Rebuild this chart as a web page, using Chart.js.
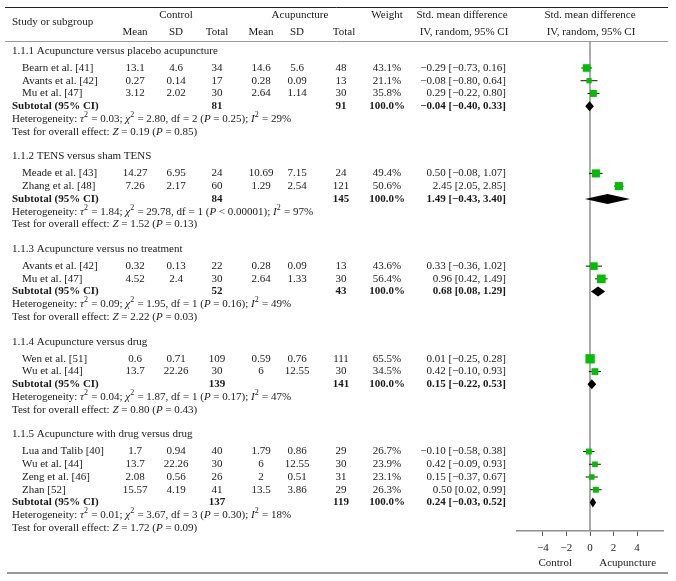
<!DOCTYPE html>
<html>
<head>
<meta charset="utf-8">
<script src="https://cdn.jsdelivr.net/npm/chart.js@4.4.2/dist/chart.umd.min.js"></script>
<style>
  html, body { margin: 0; padding: 0; background: #fff; }
  canvas { display: block; }
</style>
</head>
<body>
<canvas id="forest" width="676" height="581"></canvas>
<script>
// ── Data ───────────────────────────────────────────────────────
const groupTitles = [
  '1.1.1 Acupuncture versus placebo acupuncture',
  '1.1.2 TENS versus sham TENS',
  '1.1.3 Acupuncture versus no treatment',
  '1.1.4 Acupuncture versus drug',
  '1.1.5 Acupuncture with drug versus drug',
];
const studyNames = [
  'Bearn et al. [41]', 'Avants et al. [42]', 'Mu et al. [47]',
  'Meade et al. [43]', 'Zhang et al. [48]',
  'Avants et al. [42]', 'Mu et al. [47]',
  'Wen et al. [51]', 'Wu et al. [44]',
  'Lua and Talib [40]', 'Wu et al. [44]', 'Zeng et al. [46]', 'Zhan [52]',
];
const studyGroup = [0, 0, 0, 1, 1, 2, 2, 3, 3, 4, 4, 4, 4];
const ctrlMean  = [13.1, 0.27, 3.12, 14.27, 7.26, 0.32, 4.52, 0.6, 13.7, 1.7, 13.7, 2.08, 15.57];
const ctrlSD    = [4.6, 0.14, 2.02, 6.95, 2.17, 0.13, 2.4, 0.71, 22.26, 0.94, 22.26, 0.56, 4.19];
const ctrlTotal = [34, 17, 30, 24, 60, 22, 30, 109, 30, 40, 30, 26, 41];
const acuMean   = [14.6, 0.28, 2.64, 10.69, 1.29, 0.28, 2.64, 0.59, 6, 1.79, 6, 2, 13.5];
const acuSD     = [5.6, 0.09, 1.14, 7.15, 2.54, 0.09, 1.33, 0.76, 12.55, 0.86, 12.55, 0.51, 3.86];
const acuTotal  = [48, 13, 30, 24, 121, 13, 30, 111, 30, 29, 30, 31, 29];
const weight    = [43.1, 21.1, 35.8, 49.4, 50.6, 43.6, 56.4, 65.5, 34.5, 26.7, 23.9, 23.1, 26.3];
const smd       = [-0.29, -0.08, 0.29, 0.50, 2.45, 0.33, 0.96, 0.01, 0.42, -0.10, 0.42, 0.15, 0.50];
const ciLow     = [-0.73, -0.80, -0.22, -0.08, 2.05, -0.36, 0.42, -0.25, -0.10, -0.58, -0.09, -0.37, 0.02];
const ciHigh    = [0.16, 0.64, 0.80, 1.07, 2.85, 1.02, 1.49, 0.28, 0.93, 0.38, 0.93, 0.67, 0.99];

const subCtrlTotal = [81, 84, 52, 139, 137];
const subAcuTotal  = [91, 145, 43, 141, 119];
const subSmd  = [-0.04, 1.49, 0.68, 0.15, 0.24];
const subLow  = [-0.40, -0.43, 0.08, -0.22, -0.03];
const subHigh = [0.33, 3.40, 1.29, 0.53, 0.52];

const heterogeneity = [
  'Heterogeneity: *τ*^2 = 0.03; *χ*^2 = 2.80, df = 2 (*P* = 0.25); *I*^2 = 29%',
  'Heterogeneity: *τ*^2 = 1.84; *χ*^2 = 29.78, df = 1 (*P* < 0.00001); *I*^2 = 97%',
  'Heterogeneity: *τ*^2 = 0.09; *χ*^2 = 1.95, df = 1 (*P* = 0.16); *I*^2 = 49%',
  'Heterogeneity: *τ*^2 = 0.04; *χ*^2 = 1.87, df = 1 (*P* = 0.17); *I*^2 = 47%',
  'Heterogeneity: *τ*^2 = 0.01; *χ*^2 = 3.67, df = 3 (*P* = 0.30); *I*^2 = 18%',
];
const overallTest = [
  'Test for overall effect: *Z* = 0.19 (*P* = 0.85)',
  'Test for overall effect: *Z* = 1.52 (*P* = 0.13)',
  'Test for overall effect: *Z* = 2.22 (*P* = 0.03)',
  'Test for overall effect: *Z* = 0.80 (*P* = 0.43)',
  'Test for overall effect: *Z* = 1.72 (*P* = 0.09)',
];
const xTicks = [-4, -2, 0, 2, 4];
const favoursLeft = 'Control';
const favoursRight = 'Acupuncture';

// ── Layout ─────────────────────────────────────────────────────
const FONT = '"Liberation Serif", "DejaVu Serif", serif';
const FS = 11;
const TEXT = '#1a1a1a';
const GREEN = '#00bf00';
const COL = { head: 12, name: 22, cMean: 135, cSD: 176, cTot: 217, aMean: 261, aSD: 297, aTot: 341, weight: 387, ci: 506 };

// row positions in "line" units (top of plot = 0)
const rows = [];
const studyY = [];
const subY = [];
let pos = 0.69;
groupTitles.forEach((t, g) => {
  if (g > 0) pos += 1.93;
  rows.push({ type: 'group', g, y: pos });
  pos += 1.35;
  studyGroup.forEach((sg, i) => {
    if (sg !== g) return;
    studyY[i] = pos;
    rows.push({ type: 'study', i, y: pos });
    pos += 1;
  });
  subY[g] = pos;
  rows.push({ type: 'sub', g, y: pos }); pos += 1;
  rows.push({ type: 'het', g, y: pos }); pos += 1;
  rows.push({ type: 'test', g, y: pos });
});
const Y_MAX = 38.4;

function fmt2(v) { return (v < 0 ? '−' : '') + Math.abs(v).toFixed(2); }
function ciText(e, lo, hi) { return `${fmt2(e)} [${fmt2(lo)}, ${fmt2(hi)}]`; }

function drawRich(ctx, str, x, y) {
  ctx.textAlign = 'left';
  str.split(/(\*[^*]+\*|\^2)/).filter(Boolean).forEach(p => {
    let txt = p, dy = 0;
    if (p === '^2') { ctx.font = `8px ${FONT}`; txt = '2'; dy = -4; }
    else if (p[0] === '*') { ctx.font = `italic ${FS}px ${FONT}`; txt = p.slice(1, -1); }
    else ctx.font = `${FS}px ${FONT}`;
    ctx.fillText(txt, x, y + dy);
    x += ctx.measureText(txt).width + (p === '^2' ? 0.5 : 0);
  });
}

function put(ctx, txt, x, y, align, bold) {
  ctx.font = `${bold ? 'bold ' : ''}${FS}px ${FONT}`;
  ctx.textAlign = align;
  ctx.fillText(txt, x, y);
}

// ── Plugins ────────────────────────────────────────────────────
const forestPlugin = {
  id: 'forest',
  beforeDatasetsDraw(chart) {
    const { ctx, chartArea, scales: { x } } = chart;
    const x0 = x.getPixelForValue(0);
    ctx.save();
    ctx.strokeStyle = '#8f8f8f';
    ctx.lineWidth = 1.5;
    ctx.beginPath();
    ctx.moveTo(x0, chartArea.top);
    ctx.lineTo(x0, chartArea.bottom);
    ctx.stroke();
    ctx.restore();
  },
  afterDatasetsDraw(chart) {
    const { ctx, scales: { x, y } } = chart;
    ctx.save();
    ctx.fillStyle = '#000';
    subSmd.forEach((e, g) => {
      const py = y.getPixelForValue(subY[g]);
      ctx.beginPath();
      ctx.moveTo(x.getPixelForValue(subLow[g]), py);
      ctx.lineTo(x.getPixelForValue(e), py - 5);
      ctx.lineTo(x.getPixelForValue(subHigh[g]), py);
      ctx.lineTo(x.getPixelForValue(e), py + 5);
      ctx.closePath();
      ctx.fill();
    });
    ctx.restore();
  },
  afterDraw(chart) {
    const { ctx, scales: { x, y } } = chart;
    ctx.save();

    // rules
    ctx.strokeStyle = '#222';
    ctx.lineWidth = 1;
    ctx.beginPath(); ctx.moveTo(5, 7.5); ctx.lineTo(668, 7.5); ctx.stroke();
    ctx.strokeStyle = '#999';
    ctx.beginPath(); ctx.moveTo(5, 41.5); ctx.lineTo(668, 41.5); ctx.stroke();
    ctx.lineWidth = 2;
    ctx.beginPath(); ctx.moveTo(7, 573); ctx.lineTo(668, 573); ctx.stroke();

    // header
    ctx.fillStyle = TEXT;
    ctx.textBaseline = 'middle';
    put(ctx, 'Study or subgroup', COL.head, 22, 'left');
    put(ctx, 'Control', COL.cSD, 15, 'center');
    put(ctx, 'Acupuncture', 300, 15, 'center');
    put(ctx, 'Weight', COL.weight, 15, 'center');
    [['Mean', COL.cMean], ['SD', COL.cSD], ['Total', COL.cTot],
     ['Mean', COL.aMean], ['SD', COL.aSD], ['Total', COL.aTot + 3]]
      .forEach(([t, cx]) => put(ctx, t, cx, 32, 'center'));
    put(ctx, 'Std. mean difference', 462, 15, 'center');
    put(ctx, 'IV, random, 95% CI', 464, 32, 'center');
    put(ctx, 'Std. mean difference', 590, 15, 'center');
    put(ctx, 'IV, random, 95% CI', 591, 32, 'center');

    // body rows
    rows.forEach(r => {
      const py = y.getPixelForValue(r.y);
      if (r.type === 'group') {
        put(ctx, groupTitles[r.g], COL.head, py, 'left');
      } else if (r.type === 'study') {
        const i = r.i;
        put(ctx, studyNames[i], COL.name, py, 'left');
        put(ctx, String(ctrlMean[i]), COL.cMean, py, 'center');
        put(ctx, String(ctrlSD[i]), COL.cSD, py, 'center');
        put(ctx, String(ctrlTotal[i]), COL.cTot, py, 'center');
        put(ctx, String(acuMean[i]), COL.aMean, py, 'center');
        put(ctx, String(acuSD[i]), COL.aSD, py, 'center');
        put(ctx, String(acuTotal[i]), COL.aTot, py, 'center');
        put(ctx, weight[i].toFixed(1) + '%', COL.weight, py, 'center');
        put(ctx, ciText(smd[i], ciLow[i], ciHigh[i]), COL.ci, py, 'right');
      } else if (r.type === 'sub') {
        const g = r.g;
        put(ctx, 'Subtotal (95% CI)', COL.head, py, 'left', true);
        put(ctx, String(subCtrlTotal[g]), COL.cTot, py, 'center', true);
        put(ctx, String(subAcuTotal[g]), COL.aTot, py, 'center', true);
        put(ctx, '100.0%', COL.weight, py, 'center', true);
        put(ctx, ciText(subSmd[g], subLow[g], subHigh[g]), COL.ci, py, 'right', true);
      } else if (r.type === 'het') {
        drawRich(ctx, heterogeneity[r.g], COL.head, py);
      } else {
        drawRich(ctx, overallTest[r.g], COL.head, py);
      }
    });

    // favours labels under the axis
    put(ctx, favoursLeft, x.getPixelForValue(-2.95), 563, 'center');
    put(ctx, favoursRight, x.getPixelForValue(3.2), 563, 'center');
    ctx.restore();
  },
};

// ── Datasets ───────────────────────────────────────────────────
const ciDatasets = smd.map((e, i) => ({
  type: 'scatter',
  data: [{ x: ciLow[i], y: studyY[i] }, { x: ciHigh[i], y: studyY[i] }],
  showLine: true,
  borderColor: '#111',
  borderWidth: 1,
  pointRadius: 0,
  order: 2,
}));

const squareDataset = {
  type: 'scatter',
  data: smd.map((e, i) => ({ x: e, y: studyY[i] })),
  pointStyle: 'rect',
  pointRadius: weight.map(w => 1.15 * Math.sqrt(w) / Math.SQRT2),
  backgroundColor: GREEN,
  borderColor: GREEN,
  borderWidth: 0,
  order: 1,
};

new Chart(document.getElementById('forest'), {
  type: 'scatter',
  data: { datasets: [squareDataset, ...ciDatasets] },
  options: {
    responsive: false,
    animation: false,
    events: [],
    clip: false,
    layout: { padding: { left: 517, right: 13, top: 42, bottom: 0 } },
    plugins: { legend: { display: false }, tooltip: { enabled: false } },
    scales: {
      x: {
        type: 'linear',
        min: -6.2,
        max: 6.2,
        afterBuildTicks: s => { s.ticks = xTicks.map(v => ({ value: v })); },
        afterFit: s => { s.height = 50; },
        grid: { drawOnChartArea: false, drawTicks: true, tickLength: 5, color: '#555' },
        border: { display: true, color: '#8f8f8f', width: 1.5 },
        ticks: {
          padding: 6,
          color: TEXT,
          font: { family: FONT, size: FS },
          callback: v => (v < 0 ? '−' + Math.abs(v) : String(v)),
        },
      },
      y: { type: 'linear', display: false, reverse: true, min: 0, max: Y_MAX },
    },
  },
  plugins: [forestPlugin],
});
</script>
</body>
</html>
